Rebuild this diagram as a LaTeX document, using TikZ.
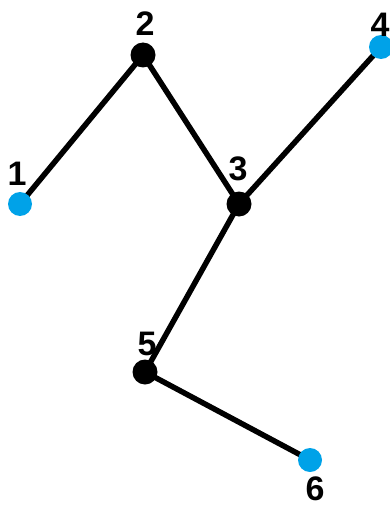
\documentclass[tikz,border=0pt]{standalone}
\usepackage{fontspec}
\setmainfont{Liberation Sans}
\usetikzlibrary{backgrounds}
\definecolor{leafblue}{RGB}{0,162,232}
\tikzset{
  inner/.style={circle, fill=black, inner sep=0pt, minimum size=25pt},
  leaf/.style={circle, fill=leafblue, inner sep=0pt, minimum size=24pt},
  lbl/.style={inner sep=0pt, font=\fontsize{34}{36}\selectfont\bfseries},
  edge/.style={line width=5.5pt, black}
}
\begin{document}
\begin{tikzpicture}[x=1pt, y=-1pt]
  \useasboundingbox (0,0) rectangle (389,508);
  % vertices
  \node[leaf]  (n1) at (20,204)  {};
  \node[inner] (n2) at (143,55)  {};
  \node[inner] (n3) at (239,204) {};
  \node[leaf]  (n4) at (381,47)  {};
  \node[inner] (n5) at (145,372) {};
  \node[leaf]  (n6) at (310,460) {};
  % vertex numbers
  \node[lbl] (l1) at (17,174)  {1};
  \node[lbl] (l2) at (145,24)  {2};
  \node[lbl] (l3) at (238,169) {3};
  \node[lbl] (l4) at (380,25)  {4};
  \node[lbl] (l5) at (147,344) {5};
  \node[lbl] (l6) at (315,489) {6};
  % tree edges
  \begin{scope}[on background layer]
    \draw[edge] (n1.center) -- (n2.center);
    \draw[edge] (n2.center) -- (n3.center);
    \draw[edge] (n3.center) -- (n4.center);
    \draw[edge] (n3.center) -- (n5.center);
    \draw[edge] (n5.center) -- (n6.center);
  \end{scope}
\end{tikzpicture}
\end{document}
